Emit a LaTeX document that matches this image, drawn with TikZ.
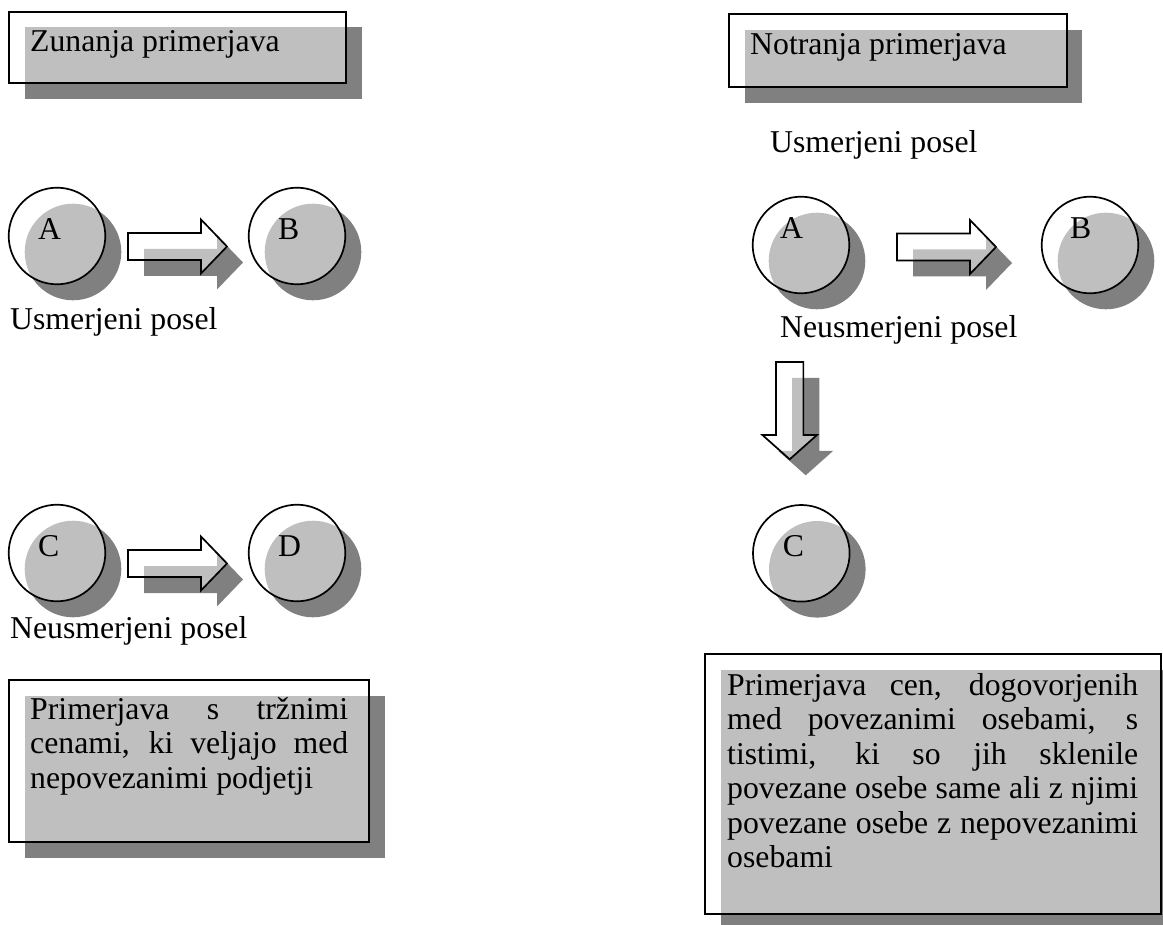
\documentclass[tikz,border=0pt]{standalone}
\usepackage{fontspec}
\setmainfont{Liberation Serif}
\definecolor{shadowgray}{RGB}{128,128,128}

% outlines of the two block arrows, drawn from their tail
\newcommand\rightblock{(0,-13.5) -- (73,-13.5) -- (73,-27) -- (99,0) -- (73,27) -- (73,13.5) -- (0,13.5) -- cycle}
\newcommand\downblock{(-13.65,0) -- (13.65,0) -- (13.65,73) -- (27.3,73) -- (0,97.3) -- (-27.3,73) -- (-13.65,73) -- cycle}

\tikzset{
  shade/.style={fill=shadowgray, draw=none},
  face/.style={draw=black, line width=1.7pt, fill=white, fill opacity=0.5},
  ballshade/.style={circle, shade, minimum size=96.6pt, inner sep=0pt},
  ball/.style={circle, face, minimum size=96.6pt, inner sep=0pt},
  lbl/.style={font=\fontsize{31.75}{34.5}\selectfont, inner sep=0pt, anchor=base west},
  rightarrow/.pic={
    \path[shade, shift={(16,16)}] \rightblock;
    \path[face] \rightblock;
  },
  downarrow/.pic={
    \path[shade, shift={(16,16)}] \downblock;
    \path[face] \downblock;
  },
}

\begin{document}
\begin{tikzpicture}[x=1pt, y=-1pt]
\useasboundingbox (0,0) rectangle (1163,925);
\clip (0,0) rectangle (1163,925);

% ---------- left column: external comparison ----------
\fill[shade] (25,27) rectangle (362,99);
\draw[face] (9,12) rectangle (346,83);
\node[lbl] (zun) at (30,52) {Zunanja primerjava};

% A -> B
\node[ballshade] at (73,252) {};
\node[ball] (A1) at (57,236) {};
\node[lbl] (A1t) at (38,240) {A};
\pic at (128,246.5) {rightarrow};
\node[ballshade] at (313,252) {};
\node[ball] (B1) at (297,236) {};
\node[lbl] (B1t) at (278,240) {B};
\node[lbl] (us1) at (10,330) {Usmerjeni posel};

% C -> D
\node[ballshade] at (73,569) {};
\node[ball] (C1) at (57,553) {};
\node[lbl] (C1t) at (38,556) {C};
\pic at (128,563.5) {rightarrow};
\node[ballshade] at (313,569) {};
\node[ball] (D1) at (297,553) {};
\node[lbl] (D1t) at (278,556.5) {D};
\node[lbl] (ne1) at (10,638) {Neusmerjeni posel};

% explanation box
\fill[shade] (25,696) rectangle (385.3,857.7);
\draw[face] (9,680) rectangle (369.3,841.7);
\node[lbl] (ext) at (30,719.3) {\parbox[t]{318pt}{\hyphenpenalty=10000\exhyphenpenalty=10000
  Primerjava s tržnimi cenami, ki veljajo med nepovezanimi podjetji}};

% ---------- right column: internal comparison ----------
\fill[shade] (745,30) rectangle (1082.3,102.7);
\draw[face] (729,14.3) rectangle (1066.7,86.7);
\node[lbl] (not) at (750,55) {Notranja primerjava};

\node[lbl] (us2) at (770,153) {Usmerjeni posel};

\node[ballshade] at (817,261) {};
\node[ball] (A2) at (801,245) {};
\node[lbl] (A2t) at (780,239) {A};
\pic at (897,247) {rightarrow};
\node[ballshade] at (1106,261) {};
\node[ball] (B2) at (1090,245) {};
\node[lbl] (B2t) at (1070,239) {B};

\node[lbl] (ne2) at (780,338) {Neusmerjeni posel};

\pic at (789.7,362) {downarrow};

\node[ballshade] at (817.3,569.3) {};
\node[ball] (C2) at (801.3,553.3) {};
\node[lbl] (C2t) at (782.7,556.7) {C};

% explanation box
\fill[shade] (721,670.3) rectangle (1177,930);
\draw[face] (705,654.3) rectangle (1161,914);
\node[lbl] (int) at (727,695) {\parbox[t]{411pt}{\hyphenpenalty=10000\exhyphenpenalty=10000
  Primerjava cen, dogovorjenih\linebreak med povezanimi osebami, s\linebreak
  tistimi, ki so jih sklenile\linebreak povezane osebe same ali z njimi\linebreak
  povezane osebe z nepovezanimi\linebreak osebami}};
\end{tikzpicture}
\end{document}
